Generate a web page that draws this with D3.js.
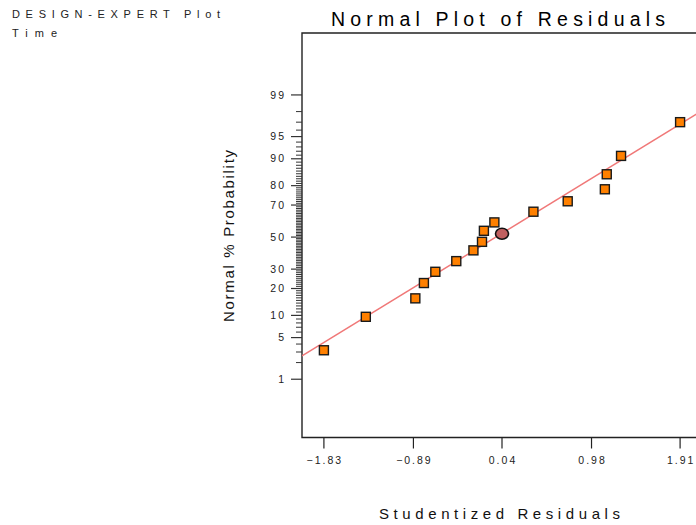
<!DOCTYPE html>
<html>
<head>
<meta charset="utf-8">
<script src="https://cdn.jsdelivr.net/npm/d3@7"></script>
<style>
  body { margin: 0; background: #fff; }
  svg { display: block; font-family: "Liberation Sans", Arial, sans-serif; }
</style>
</head>
<body>
<div id="chart"></div>
<script>
// data
var residuals = [-1.83, -1.39, -0.87, -0.78, -0.66, -0.44, -0.26, -0.17, -0.15, -0.04, 0.37, 0.73, 1.12, 1.14, 1.29, 1.91];
var probs = [3.2, 9.6, 15.8, 22.6, 28.5, 34.7, 41.4, 46.9, 54.1, 59.5, 66.1, 72.1, 78.3, 84.8, 90.8, 97.0];
var selResidual = [0.04];
var selProb = [52.2];
var xTicks = [-1.83, -0.89, 0.04, 0.98, 1.91];
var yTicks = [1, 5, 10, 20, 30, 50, 70, 80, 90, 95, 99];
var yMinor = d3.range(2, 99);
var fitMean = -0.024, fitSd = 1.047;

var svgWidth = 696, svgHeight = 525;
var margin = {top: 33, left: 302};
var width = 400, height = 404.5;

// inverse normal cdf (Acklam approximation)
function probit(p) {
  var a = [-39.69683028665376, 220.9460984245205, -275.9285104469687, 138.3577518672690, -30.66479806614716, 2.506628277459239];
  var b = [-54.47609879822406, 161.5858368580409, -155.6989798598866, 66.80131188771972, -13.28068155288572];
  var c = [-0.007784894002430293, -0.3223964580411365, -2.400758277161838, -2.549732539343734, 4.374664141464968, 2.938163982698783];
  var d = [0.007784695709041462, 0.3224671290700398, 2.445134137142996, 3.754408661907416];
  var pl = 0.02425, q, r;
  if (p < pl) {
    q = Math.sqrt(-2 * Math.log(p));
    return (((((c[0]*q+c[1])*q+c[2])*q+c[3])*q+c[4])*q+c[5]) / ((((d[0]*q+d[1])*q+d[2])*q+d[3])*q+1);
  }
  if (p > 1 - pl) {
    q = Math.sqrt(-2 * Math.log(1 - p));
    return -(((((c[0]*q+c[1])*q+c[2])*q+c[3])*q+c[4])*q+c[5]) / ((((d[0]*q+d[1])*q+d[2])*q+d[3])*q+1);
  }
  q = p - 0.5; r = q * q;
  return (((((a[0]*r+a[1])*r+a[2])*r+a[3])*r+a[4])*r+a[5])*q / (((((b[0]*r+b[1])*r+b[2])*r+b[3])*r+b[4])*r+1);
}

var svg = d3.select("#chart").append("svg")
  .attr("width", svgWidth)
  .attr("height", svgHeight);

var x = d3.scaleLinear().domain([-2.06, 2.14]).range([0, width]);
var z = d3.scaleLinear().domain([-3.28, 3.34]).range([height, 0]);
var y = function(p) { return z(probit(p / 100)); };

var g = svg.append("g").attr("transform", `translate(${margin.left}, ${margin.top})`);

svg.append("defs").append("clipPath").attr("id", "clip")
  .append("rect").attr("width", width).attr("height", height);

// frame: left, top and bottom (right side runs off the page)
g.append("path")
  .attr("d", `M${width},0H0V${height}H${width}`)
  .attr("fill", "none")
  .attr("stroke", "#222")
  .attr("stroke-width", 1.4);

// y axis ticks
g.selectAll(".minor").data(yMinor.filter(v => yTicks.indexOf(v) < 0)).enter()
  .append("line")
  .attr("x1", -6).attr("x2", 0)
  .attr("y1", d => y(d)).attr("y2", d => y(d))
  .attr("stroke", "#333").attr("stroke-width", 1);

g.selectAll(".major").data(yTicks).enter()
  .append("line")
  .attr("x1", -11).attr("x2", 0)
  .attr("y1", d => y(d)).attr("y2", d => y(d))
  .attr("stroke", "#333").attr("stroke-width", 1.2);

g.selectAll(".ylab").data(yTicks).enter()
  .append("text")
  .attr("x", -16)
  .attr("y", d => y(d))
  .attr("dy", "0.35em")
  .attr("text-anchor", "end")
  .attr("font-size", 10.5)
  .attr("letter-spacing", "2px")
  .attr("fill", "#222")
  .text(d => d);

// x axis ticks
g.selectAll(".xtick").data(xTicks).enter()
  .append("line")
  .attr("x1", d => x(d)).attr("x2", d => x(d))
  .attr("y1", height).attr("y2", height + 11)
  .attr("stroke", "#222").attr("stroke-width", 1.2);

g.selectAll(".xlab").data(xTicks).enter()
  .append("text")
  .attr("x", d => x(d) + 1)
  .attr("y", height + 26)
  .attr("text-anchor", "middle")
  .attr("font-size", 10.5)
  .attr("letter-spacing", "2px")
  .attr("fill", "#222")
  .text(d => d3.format(".2f")(d));

// fitted line
var xd = x.domain();
g.append("line")
  .attr("clip-path", "url(#clip)")
  .attr("x1", x(xd[0])).attr("y1", z((xd[0] - fitMean) / fitSd))
  .attr("x2", x(xd[1])).attr("y2", z((xd[1] - fitMean) / fitSd))
  .attr("stroke", "#F07878")
  .attr("stroke-width", 1.5);

// points
var sq = 9;
g.selectAll(".pt").data(residuals).enter()
  .append("rect")
  .attr("x", d => x(d) - sq / 2)
  .attr("y", (d, i) => y(probs[i]) - sq / 2)
  .attr("width", sq).attr("height", sq)
  .attr("fill", "#FF8000")
  .attr("stroke", "#1a1a1a")
  .attr("stroke-width", 1.4);

g.selectAll(".sel").data(selResidual).enter()
  .append("ellipse")
  .attr("cx", d => x(d))
  .attr("cy", (d, i) => y(selProb[i]))
  .attr("rx", 6.5).attr("ry", 5.5)
  .attr("fill", "#C06060")
  .attr("stroke", "#111")
  .attr("stroke-width", 1.6);

// titles
svg.append("text")
  .attr("x", 331).attr("y", 26)
  .attr("font-size", 19.5)
  .attr("textLength", 334)
  .attr("lengthAdjust", "spacing")
  .text("Normal Plot of Residuals");

svg.append("text")
  .attr("x", 12).attr("y", 18)
  .attr("font-size", 11)
  .attr("textLength", 208)
  .attr("lengthAdjust", "spacing")
  .attr("fill", "#222")
  .text("DESIGN-EXPERT Plot");

svg.append("text")
  .attr("x", 12).attr("y", 37)
  .attr("font-size", 11)
  .attr("textLength", 45)
  .attr("lengthAdjust", "spacing")
  .attr("fill", "#222")
  .text("Time");

svg.append("text")
  .attr("transform", "translate(234, 236) rotate(-90)")
  .attr("text-anchor", "middle")
  .attr("font-size", 15)
  .attr("textLength", 172)
  .attr("lengthAdjust", "spacing")
  .attr("fill", "#111")
  .text("Normal % Probability");

svg.append("text")
  .attr("x", 379).attr("y", 519)
  .attr("font-size", 15)
  .attr("textLength", 241)
  .attr("lengthAdjust", "spacing")
  .attr("fill", "#111")
  .text("Studentized Residuals");
</script>
</body>
</html>
